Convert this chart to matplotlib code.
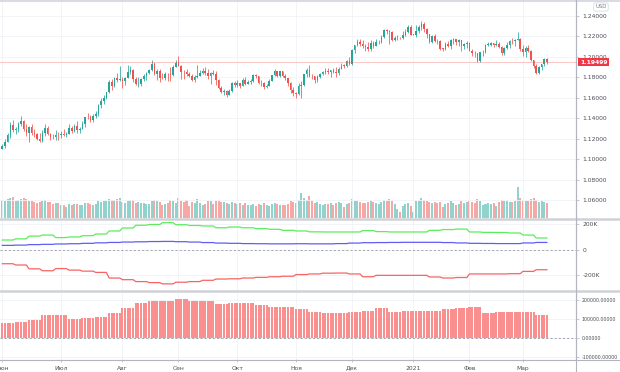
import numpy as np
import matplotlib.pyplot as plt
from matplotlib.lines import Line2D
import matplotlib.transforms as mtransforms

# EUR/USD daily candles, 1 Jun 2020 .. 12 Mar 2021 (one row per month)
first_open = 1.1100
close = [
    1.1135, 1.1171, 1.1236, 1.1338, 1.1290, 1.1294, 1.1342, 1.1372, 1.1300, 1.1256, 1.1320,
    1.1263, 1.1244, 1.1204, 1.1178, 1.1256, 1.1308, 1.1250, 1.1221, 1.1219, 1.1242, 1.1234,
    1.1252, 1.1240, 1.1246, 1.1308, 1.1274, 1.1330, 1.1288, 1.1299, 1.1343, 1.1412, 1.1411, 1.1383,
    1.1427, 1.1445, 1.1527, 1.1568, 1.1596, 1.1656, 1.1752, 1.1717, 1.1791, 1.1777, 1.1779,
    1.1761, 1.1799, 1.1857, 1.1876, 1.1786, 1.1737, 1.1739, 1.1785, 1.1812, 1.1842, 1.1871,
    1.1930, 1.1836, 1.1860, 1.1797, 1.1794, 1.1833, 1.1831, 1.1820, 1.1902, 1.1937,
    1.1913, 1.1856, 1.1851, 1.1838, 1.1817, 1.1780, 1.1801, 1.1812, 1.1845, 1.1865, 1.1844,
    1.1818, 1.1847, 1.1837, 1.1772, 1.1702, 1.1656, 1.1671, 1.1630, 1.1664, 1.1744, 1.1722,
    1.1747, 1.1714, 1.1780, 1.1733, 1.1760, 1.1762, 1.1825, 1.1812, 1.1745, 1.1746, 1.1706,
    1.1718, 1.1768, 1.1820, 1.1862, 1.1817, 1.1859, 1.1812, 1.1793, 1.1747, 1.1675, 1.1646,
    1.1641, 1.1715, 1.1722, 1.1830, 1.1875, 1.1815, 1.1811, 1.1777, 1.1808, 1.1834, 1.1853,
    1.1860, 1.1852, 1.1873, 1.1857, 1.1842, 1.1887, 1.1915, 1.1914, 1.1962, 1.1927,
    1.2072, 1.2114, 1.2146, 1.2122, 1.2110, 1.2102, 1.2078, 1.2137, 1.2110, 1.2146, 1.2148, 1.2197,
    1.2265, 1.2255, 1.2240, 1.2161, 1.2182, 1.2187, 1.2185, 1.2215, 1.2247, 1.2297, 1.2216,
    1.2218, 1.2253, 1.2297, 1.2325, 1.2270, 1.2221, 1.2151, 1.2206, 1.2157, 1.2156, 1.2081,
    1.2079, 1.2131, 1.2107, 1.2166, 1.2171, 1.2142, 1.2163, 1.2112, 1.2125, 1.2136,
    1.2063, 1.2038, 1.2037, 1.1962, 1.2046, 1.2051, 1.2118, 1.2119, 1.2133, 1.2120,
    1.2125, 1.2102, 1.2039, 1.2091, 1.2120, 1.2155, 1.2152, 1.2167, 1.2175, 1.2075,
    1.2049, 1.2092, 1.2061, 1.1966, 1.1915, 1.1847, 1.1900, 1.1928, 1.1985, 1.19499,
]
high = [
    1.1154, 1.1197, 1.1257, 1.1362, 1.1384, 1.1313, 1.1361, 1.1422, 1.1387, 1.1346, 1.1331,
    1.1351, 1.1294, 1.1260, 1.1257, 1.1285, 1.1349, 1.1323, 1.1260, 1.1250, 1.1285, 1.1266,
    1.1277, 1.1302, 1.1267, 1.1345, 1.1322, 1.1342, 1.1372, 1.1318, 1.1375, 1.1419, 1.1452, 1.1433,
    1.1441, 1.1469, 1.1540, 1.1601, 1.1626, 1.1660, 1.1780, 1.1782, 1.1806, 1.1845, 1.1908,
    1.1801, 1.1807, 1.1917, 1.1916, 1.1881, 1.1806, 1.1806, 1.1798, 1.1837, 1.1857, 1.1885,
    1.1966, 1.1951, 1.1885, 1.1884, 1.1842, 1.1852, 1.1846, 1.1901, 1.1920, 1.1967,
    1.2011, 1.1921, 1.1869, 1.1885, 1.1849, 1.1830, 1.1828, 1.1917, 1.1872, 1.1890, 1.1900,
    1.1882, 1.1853, 1.1872, 1.1868, 1.1785, 1.1721, 1.1687, 1.1676, 1.1683, 1.1752, 1.1768,
    1.1779, 1.1748, 1.1798, 1.1808, 1.1771, 1.1781, 1.1831, 1.1830, 1.1812, 1.1771, 1.1752,
    1.1738, 1.1789, 1.1829, 1.1880, 1.1862, 1.1861, 1.1858, 1.1838, 1.1796, 1.1760, 1.1705,
    1.1661, 1.1747, 1.1770, 1.1837, 1.1890, 1.1920, 1.1833, 1.1815, 1.1823, 1.1845, 1.1864,
    1.1894, 1.1891, 1.1875, 1.1890, 1.1905, 1.1902, 1.1943, 1.1930, 1.1970, 1.1997,
    1.2077, 1.2121, 1.2176, 1.2177, 1.2167, 1.2130, 1.2143, 1.2163, 1.2160, 1.2178, 1.2162, 1.2212,
    1.2273, 1.2272, 1.2259, 1.2250, 1.2200, 1.2210, 1.2192, 1.2250, 1.2276, 1.2310, 1.2309,
    1.2225, 1.2310, 1.2314, 1.2349, 1.2345, 1.2279, 1.2221, 1.2213, 1.2222, 1.2175, 1.2163,
    1.2090, 1.2144, 1.2154, 1.2178, 1.2189, 1.2180, 1.2176, 1.2169, 1.2138, 1.2155,
    1.2150, 1.2081, 1.2059, 1.2043, 1.2051, 1.2064, 1.2130, 1.2150, 1.2144, 1.2138,
    1.2169, 1.2150, 1.2110, 1.2095, 1.2144, 1.2170, 1.2181, 1.2180, 1.2243, 1.2184,
    1.2113, 1.2104, 1.2113, 1.2065, 1.1971, 1.1932, 1.1915, 1.1936, 1.1990, 1.1989,
]
low = [
    1.1098, 1.1111, 1.1166, 1.1213, 1.1272, 1.1244, 1.1269, 1.1325, 1.1280, 1.1225, 1.1169,
    1.1240, 1.1215, 1.1194, 1.1168, 1.1168, 1.1231, 1.1240, 1.1188, 1.1198, 1.1190, 1.1194,
    1.1208, 1.1232, 1.1223, 1.1244, 1.1262, 1.1267, 1.1257, 1.1254, 1.1293, 1.1316, 1.1396, 1.1370,
    1.1370, 1.1406, 1.1422, 1.1501, 1.1537, 1.1586, 1.1645, 1.1680, 1.1704, 1.1753, 1.1761,
    1.1696, 1.1724, 1.1792, 1.1838, 1.1755, 1.1723, 1.1711, 1.1719, 1.1767, 1.1779, 1.1834,
    1.1866, 1.1823, 1.1780, 1.1753, 1.1781, 1.1776, 1.1770, 1.1762, 1.1815, 1.1898,
    1.1912, 1.1789, 1.1790, 1.1813, 1.1806, 1.1765, 1.1752, 1.1797, 1.1811, 1.1832, 1.1826,
    1.1788, 1.1737, 1.1825, 1.1727, 1.1688, 1.1650, 1.1627, 1.1612, 1.1626, 1.1658, 1.1703,
    1.1711, 1.1696, 1.1713, 1.1724, 1.1732, 1.1740, 1.1757, 1.1792, 1.1737, 1.1719, 1.1689,
    1.1701, 1.1716, 1.1764, 1.1818, 1.1805, 1.1801, 1.1800, 1.1780, 1.1718, 1.1650, 1.1622,
    1.1603, 1.1631, 1.1602, 1.1718, 1.1804, 1.1800, 1.1786, 1.1745, 1.1755, 1.1792, 1.1821,
    1.1832, 1.1835, 1.1802, 1.1846, 1.1803, 1.1826, 1.1878, 1.1897, 1.1903, 1.1924,
    1.1925, 1.2039, 1.2110, 1.2110, 1.2088, 1.2060, 1.2059, 1.2058, 1.2084, 1.2109, 1.2125, 1.2138,
    1.2183, 1.2221, 1.2130, 1.2152, 1.2152, 1.2168, 1.2178, 1.2180, 1.2203, 1.2236, 1.2212,
    1.2211, 1.2193, 1.2233, 1.2262, 1.2245, 1.2190, 1.2133, 1.2132, 1.2150, 1.2124, 1.2073,
    1.2054, 1.2071, 1.2097, 1.2077, 1.2131, 1.2118, 1.2107, 1.2058, 1.2080, 1.2085,
    1.2055, 1.2011, 1.2003, 1.1953, 1.1952, 1.2011, 1.2043, 1.2109, 1.2108, 1.2096,
    1.2110, 1.2091, 1.2023, 1.2022, 1.2076, 1.2090, 1.2128, 1.2111, 1.2165, 1.2063,
    1.2010, 1.2000, 1.2045, 1.1960, 1.1893, 1.1838, 1.1835, 1.1870, 1.1911, 1.1928,
]
volume = [
    180, 170, 190, 200, 210, 170, 175, 185, 200, 190, 170, 165, 160, 150, 160, 165, 175, 160, 155, 140, 145, 150,
    130, 125, 110, 135, 130, 135, 140, 130, 125, 145, 150, 140, 130, 135, 165, 160, 165, 170, 185, 175, 180, 190, 200,
    160, 150, 170, 175, 180, 150, 160, 150, 145, 140, 135, 170, 180, 165, 160, 130, 140, 145, 175, 165, 150,
    195, 170, 160, 175, 120, 155, 150, 185, 150, 130, 140, 165, 170, 140, 165, 170, 160, 155, 150, 140, 155, 150,
    140, 145, 130, 150, 130, 125, 140, 115, 135, 130, 145, 130, 120, 140, 150, 135, 130, 125, 130, 140, 165, 160,
    150, 175, 245, 200, 180, 220, 170, 150, 155, 140, 130, 135, 140, 145, 130, 150, 155, 150, 110, 140, 150,
    190, 170, 165, 160, 145, 150, 155, 170, 160, 145, 140, 160, 175, 165, 185, 165, 140, 90, 60, 120, 140, 150, 120,
    55, 170, 165, 195, 180, 165, 160, 150, 155, 145, 160, 110, 140, 150, 170, 145, 130, 140, 165, 150, 160,
    165, 160, 150, 185, 170, 130, 140, 145, 135, 150, 120, 155, 175, 165, 170, 160, 155, 165, 310, 200,
    175, 165, 170, 190, 200, 175, 160, 165, 155, 150,
]
last_price = 1.19499

month_start = [0, 22, 45, 66, 88, 110, 131, 154, 175, 195]
month_names = ['Июн', 'Июл', 'Авг', 'Сен', 'Окт', 'Ноя', 'Дек', '2021', 'Фев', 'Мар']
price_ticks = [1.06, 1.08, 1.10, 1.12, 1.14, 1.16, 1.18, 1.20, 1.22, 1.24]

# COT, weekly values in thousands of contracts
cot_noncomm = [76, 85, 107, 115, 95, 100, 110, 123, 147, 170, 192, 198, 212, 196, 190, 186, 172, 178, 172, 165,
               160, 152, 147, 140, 139, 139, 139, 150, 142, 139, 139, 139, 152, 158, 162, 139, 136, 135, 131, 115, 92]
cot_nonrep = [34, 36, 40, 42, 45, 47, 50, 54, 57, 60, 62, 64, 65, 63, 60, 56, 52, 50, 48, 47,
              46, 46, 47, 46, 46, 48, 52, 55, 56, 57, 58, 58, 58, 56, 53, 50, 49, 48, 48, 53, 57]
cot_comm = [-110, -120, -150, -165, -148, -160, -168, -178, -222, -235, -250, -258, -268, -255, -250, -240, -230,
            -228, -222, -217, -212, -208, -195, -190, -184, -183, -190, -212, -201, -201, -201, -201, -214, -222,
            -218, -190, -190, -190, -188, -170, -157]
net_hist = [78, 83, 95, 121, 121, 100, 107, 113, 130, 160, 182, 196, 196, 208, 194, 194, 177, 185, 185, 173, 165,
            165, 151, 139, 133, 133, 139, 144, 156, 139, 142, 142, 142, 151, 160, 165, 130, 135, 135, 135, 121]

UP = '#26a69a'
DOWN = '#ef5350'
GRID = '#f0f2f6'
AXC = '#b2b5be'
TXT = '#4a4d57'
FS = 4.3

W, H = 620, 372
fig = plt.figure(figsize=(W / 100, H / 100), dpi=100)
fig.patch.set_facecolor('white')
right = 576 / W


def pane(y0, y1):
    return fig.add_axes([0, 1 - y1 / H, right, (y1 - y0) / H])


ax1 = pane(0, 218)
ax2 = pane(220, 290)
ax3 = pane(292, 359)

c = np.array(close)
o = np.r_[first_open, c[:-1]]
hi = np.maximum(np.array(high), np.maximum(o, c))
lo = np.minimum(np.array(low), np.minimum(o, c))
n = len(c)
x = np.arange(n)
cols = np.where(c >= o, UP, DOWN)

# volume overlay at the bottom of the price pane
axv = ax1.twinx()
axv.bar(x, volume, width=0.75, color=cols, alpha=0.5, linewidth=0)
axv.set_ylim(0, max(volume) * 7.0)
axv.axis('off')
ax1.set_zorder(axv.get_zorder() + 1)
ax1.patch.set_visible(False)

ax1.vlines(x, lo, hi, color=cols, lw=0.55)
ax1.bar(x, np.maximum(np.abs(c - o), 0.0004), bottom=np.minimum(o, c), width=0.6, color=cols, linewidth=0)
ax1.axhline(last_price, color=DOWN, lw=0.5, alpha=0.45)
ax1.set_ylim(1.0429, 1.2556)
ax1.set_yticks(price_ticks)
ax1.set_yticklabels(['%.5f' % p for p in price_ticks])

trans = mtransforms.blended_transform_factory(ax1.transAxes, ax1.transData)
ax1.text(1 + 4 / 576, last_price, '%.5f' % last_price, transform=trans, fontsize=FS, color='white',
         va='center', ha='left', fontweight='bold',
         bbox=dict(boxstyle='square,pad=0.3', fc='#f23645', ec='none'))
fig.text(601 / W, 1 - 7 / H, 'USD', fontsize=3.8, color='#787b86', ha='center', va='center',
         bbox=dict(boxstyle='round,pad=0.3', fc='white', ec='#d1d4dc', lw=0.5))

# COT lines, weekly values held for each day of the week
daily = lambda w: np.repeat(np.array(w) * 1000.0, 5)[:n]
ax2.plot(x, daily(cot_noncomm), color='#5cec5c', lw=0.9)
ax2.plot(x, daily(cot_nonrep), color='#5f5ff5', lw=0.9)
ax2.plot(x, daily(cot_comm), color='#f86464', lw=0.9)
ax2.axhline(0, color='#9598a1', lw=0.6, ls=(0, (2.5, 2.5)))
ax2.set_ylim(-316000, 233000)
ax2.set_yticks([-200000, 0, 200000])
ax2.set_yticklabels(['-200K', '0', '200K'])

ax3.bar(x, daily(net_hist), width=0.78, color='#f98f8f', linewidth=0)
ax3.axhline(0, color='#9598a1', lw=0.6, ls=(0, (2.5, 2.5)))
ax3.set_ylim(-108000, 242000)
hticks = [-100000, 0, 100000, 200000]
ax3.set_yticks(hticks)
ax3.set_yticklabels(['%.5f' % v for v in hticks])

for ax in (ax1, ax2, ax3):
    ax.set_xlim(-0.86, 214.9)
    ax.set_xticks(month_start)
    ax.grid(True, color=GRID, lw=0.6)
    ax.set_axisbelow(True)
    ax.yaxis.tick_right()
    ax.tick_params(axis='y', length=2.2, width=0.5, color=AXC, labelsize=FS, labelcolor=TXT, pad=2.5)
    ax.tick_params(axis='x', length=0, labelbottom=False)
    for s in ('top', 'left', 'bottom'):
        ax.spines[s].set_visible(False)
    ax.spines['right'].set_color(AXC)
    ax.spines['right'].set_linewidth(0.8)

# long decimal labels of the lower pane are set smaller so they fit
ax3.tick_params(axis='y', labelsize=3.4, pad=1.8)
ax3.tick_params(axis='x', length=2.2, width=0.5, color=AXC, labelbottom=True, labelsize=FS,
                labelcolor=TXT, pad=2.5)
ax3.set_xticklabels(month_names)

# pane separators and frame
for yy, lw, col in [(0.5, 1.2, '#d1d4dc'), (219, 1.8, '#cfd1d6'), (291, 1.8, '#cfd1d6'), (359.5, 0.8, AXC)]:
    fig.add_artist(Line2D([0, 1], [1 - yy / H] * 2, transform=fig.transFigure, color=col, lw=lw))
fig.add_artist(Line2D([right] * 2, [0, 1], transform=fig.transFigure, color=AXC, lw=0.8))

fig.savefig('out.png', dpi=100)
